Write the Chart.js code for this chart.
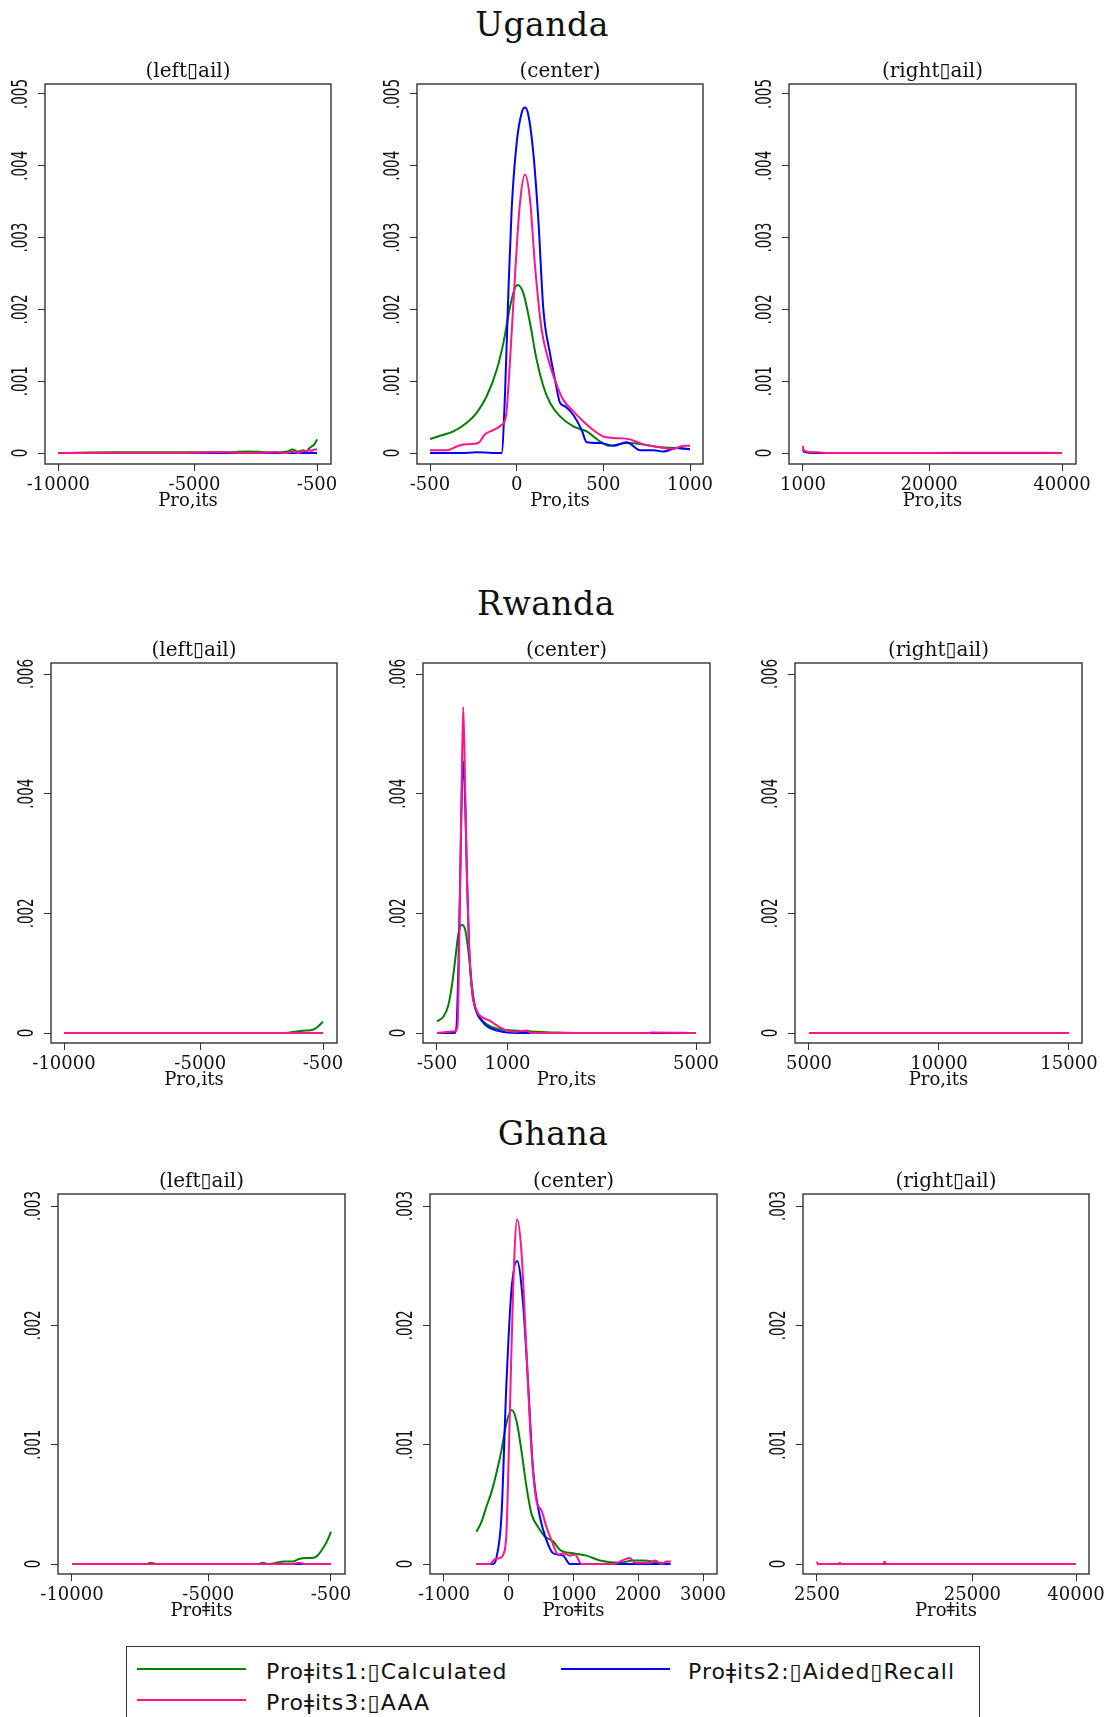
<!DOCTYPE html>
<html>
<head>
<meta charset="utf-8">
<script src="https://cdn.jsdelivr.net/npm/chart.js@4.4.1/dist/chart.umd.min.js"></script>
<style>
html, body { margin: 0; padding: 0; background: #fff; overflow: hidden; }
body { width: 1112px; height: 1717px; position: relative; }
canvas { position: absolute; }
.country { position: absolute; font-family: "DejaVu Serif", serif; font-size: 33px; color: #111;
           transform: translate(-50%, -50%); white-space: nowrap; line-height: 1; letter-spacing: 0.5px; }
#legend { position: absolute; left: 126px; top: 1646px; width: 854px; height: 90px;
          border: 1px solid #333; box-sizing: border-box; }
#legend .swatch { position: absolute; height: 2px; width: 109px; }
#legend .lbl { position: absolute; font-family: "DejaVu Sans", sans-serif; font-size: 22px; color: #111;
               transform: translateY(-50%); white-space: nowrap; line-height: 1; letter-spacing: 1px; }
</style>
</head>
<body>
<div class="country" style="left:542px;top:24px">Uganda</div>
<div class="country" style="left:546px;top:603px">Rwanda</div>
<div class="country" style="left:553px;top:1133px">Ghana</div>

<div id="legend">
  <div class="swatch" style="left:10px;top:21px;background:#008000"></div>
  <div class="lbl" style="left:139px;top:25px">Proǂits1:▯Calculated</div>
  <div class="swatch" style="left:434px;top:21px;background:#0000ff"></div>
  <div class="lbl" style="left:561px;top:25px">Proǂits2:▯Aided▯Recall</div>
  <div class="swatch" style="left:10px;top:52px;background:#ff148c"></div>
  <div class="lbl" style="left:139px;top:56px">Proǂits3:▯AAA</div>
</div>

<script>
// ---- Uganda ----
const ugLeftX     = [-10000, -8000, -6000, -4000, -3000, -2000, -1600, -1400, -1200, -1000, -900, -800, -700, -600, -500];
const ugLeftCalc  = [0, 0.00001, 0.00001, 0.00001, 0.00002, 0.00001, 0.00002, 0.00005, 0.00002, 0.00004, 0.00002, 0.00006, 0.00009, 0.00012, 0.00019];
const ugLeftAided = [0, 0, 0, 0, 0, 0, 0, 0, 0, 0, 0, 0, 0, 0, 0];
const ugLeftAaa   = [0, 0, 0, 0.00001, 0, 0.00001, 0, 0.00002, 0, 0.00003, 0.00002, 0.00004, 0.00003, 0.00005, 0.00005];

const ugCenterCalcX  = [-500, -442, -365, -288, -231, -173, -115, -77, -38, -10, 6, 38, 77, 115, 154, 192, 250, 327, 404, 481, 538, 635, 731, 827, 923, 1000];
const ugCenterCalcY  = [0.000195, 0.00024, 0.0003, 0.00042, 0.00056, 0.00079, 0.00116, 0.00153, 0.00204, 0.0023, 0.00234, 0.00223, 0.00181, 0.0013, 0.00093, 0.0007, 0.00051, 0.00037, 0.0003, 0.00016, 0.0001, 0.00014, 0.00012, 0.00008, 0.00007, 0.000055];
const ugCenterAidedX = [-500, -327, -231, -87, -67, -48, -29, 0, 29, 48, 67, 96, 125, 154, 192, 221, 250, 279, 327, 375, 404, 481, 558, 635, 712, 788, 846, 923, 1000];
const ugCenterAidedY = [0, 0, 0.00001, 0, 0.00084, 0.00223, 0.00339, 0.00432, 0.00474, 0.00481, 0.00471, 0.00418, 0.00325, 0.002, 0.00139, 0.00102, 0.0007, 0.00065, 0.00053, 0.00032, 0.00015, 0.00014, 0.0001, 0.00015, 0.00004, 0.00004, 0.00002, 0.00007, 0.00005];
const ugCenterAaaX   = [-500, -404, -346, -308, -221, -183, -135, -87, -62, -38, -10, 19, 48, 77, 106, 144, 183, 231, 269, 327, 385, 442, 500, 558, 654, 731, 827, 904, 962, 1000];
const ugCenterAaaY   = [0.00004, 0.00004, 0.00009, 0.00012, 0.00014, 0.00026, 0.00032, 0.00039, 0.00051, 0.0013, 0.00246, 0.00348, 0.00388, 0.00353, 0.0026, 0.00172, 0.0013, 0.00095, 0.00074, 0.00058, 0.00044, 0.00032, 0.00023, 0.00021, 0.00019, 0.00012, 0.00008, 0.00006, 0.0001, 0.0001];

const ugRightX     = [1000, 1100, 1300, 1600, 2000, 3000, 5000, 10000, 20000, 30000, 40000];
const ugRightCalc  = [0.00003, 0.00002, 0.00001, 0.00001, 0, 0, 0, 0, 0, 0, 0];
const ugRightAided = [0.00006, 0.00003, 0.00002, 0.00001, 0.00001, 0, 0, 0, 0, 0, 0];
const ugRightAaa   = [0.0001, 0.00004, 0.00003, 0.00002, 0.00001, 0.00001, 0, 0, 0, 0.000005, 0];

// ---- Rwanda ----
const rwLeftX     = [-10000, -5000, -2000, -1700, -1400, -1100, -900, -700, -500];
const rwLeftCalc  = [0, 0, 0, 0.00001, 0.00003, 0.00004, 0.00005, 0.0001, 0.00019];
const rwLeftAided = [0, 0, 0, 0, 0, 0, 0, 0, 0];
const rwLeftAaa   = [0, 0, 0, 0, 0, 0, 0, 0, 0];

const rwCenterCalcX  = [-500, -357, -257, -186, -114, -43, 29, 100, 171, 243, 314, 421, 564, 779, 1136, 1421, 2000, 3000, 5000];
const rwCenterCalcY  = [0.000195, 0.00028, 0.00047, 0.00078, 0.00122, 0.00167, 0.00181, 0.00172, 0.00134, 0.00078, 0.00042, 0.00025, 0.00014, 0.00007, 0.00004, 0.00003, 0.00001, 0, 0];
const rwCenterAidedX = [-500, -129, -86, -43, 0, 29, 57, 93, 136, 179, 243, 350, 457, 564, 779, 993, 1500, 5000];
const rwCenterAidedY = [0, 0, 0.0001, 0.0012, 0.0029, 0.0041, 0.00454, 0.004, 0.00262, 0.0015, 0.00072, 0.00033, 0.0002, 0.00011, 0.00004, 0.00001, 0, 0];
const rwCenterAaaX   = [-500, -400, -114, -64, -21, 21, 57, 93, 136, 179, 243, 350, 493, 636, 743, 921, 1136, 1421, 1493, 4000, 4050, 5000];
const rwCenterAaaY   = [0, 0.00001, 0.00003, 0.00011, 0.0018, 0.004, 0.00545, 0.0043, 0.00262, 0.0015, 0.00072, 0.00036, 0.00025, 0.0002, 0.00014, 0.00006, 0.00002, 0.00004, 0, 0, 0.00001, 0];

const rwRightX     = [5000, 10000, 15000];
const rwRightCalc  = [0, 0, 0];
const rwRightAided = [0, 0, 0];
const rwRightAaa   = [0, 0, 0];

// ---- Ghana ----
const ghLeftX     = [-10000, -7300, -7100, -6900, -4000, -3200, -3000, -2800, -2200, -1900, -1700, -1400, -1200, -1000, -800, -650, -500];
const ghLeftCalc  = [0, 0, 0.00001, 0, 0, 0, 0.00001, 0, 0.00002, 0.00002, 0.00004, 0.00005, 0.00005, 0.00007, 0.00013, 0.00019, 0.00027];
const ghLeftAided = [0, 0, 0, 0, 0, 0, 0, 0, 0, 0, 0, 0, 0, 0, 0, 0, 0];
const ghLeftAaa   = [0, 0, 0, 0, 0, 0, 0, 0, 0, 0, 0.00001, 0, 0, 0, 0, 0, 0];

const ghCenterCalcX  = [-500, -423, -345, -268, -191, -113, -36, 46, 119, 196, 273, 351, 454, 557, 686, 789, 995, 1201, 1407, 1716, 1923, 2077, 2335, 2490];
const ghCenterCalcY  = [0.00027, 0.00035, 0.00048, 0.0006, 0.00076, 0.00095, 0.00118, 0.00129, 0.0012, 0.00095, 0.00065, 0.00042, 0.00031, 0.00023, 0.00019, 0.00012, 0.00009, 0.00007, 0.00003, 0.00001, 0.00003, 0.00003, 0.00001, 0];
const ghCenterAidedX = [-500, -242, -191, -113, -36, 41, 129, 222, 299, 376, 479, 582, 686, 840, 943, 2500];
const ghCenterAidedY = [0, 0, 0.00005, 0.0004, 0.00151, 0.00229, 0.00254, 0.00218, 0.00151, 0.00079, 0.0004, 0.0002, 0.00009, 0.00007, 0, 0];
const ghCenterAaaX   = [-500, -294, -216, -139, -77, -36, 15, 67, 129, 196, 273, 351, 428, 505, 582, 660, 763, 840, 943, 1021, 1124, 1613, 1716, 1871, 1948, 2180, 2258, 2361, 2438, 2505];
const ghCenterAaaY   = [0, 0, 0.00004, 0.00005, 0.00009, 0.00026, 0.00123, 0.00229, 0.00289, 0.00262, 0.00179, 0.00095, 0.00053, 0.00045, 0.00031, 0.0002, 0.00008, 0.00009, 0.00007, 0.00008, 0, 0, 0.00002, 0.00005, 0.00001, 0.00001, 0.00003, 0, 0.00002, 0.00002];

const ghRightX     = [2500, 2550, 2650, 5500, 5800, 6100, 12100, 12300, 12500, 25000, 40000];
const ghRightCalc  = [0, 0, 0, 0, 0.000008, 0, 0, 0, 0, 0, 0];
const ghRightAided = [0, 0, 0, 0, 0, 0, 0, 0, 0, 0, 0];
const ghRightAaa   = [0.00002, 0.00001, 0, 0, 0, 0, 0, 0.00002, 0, 0, 0];

// tick values
const tailLeftTicks = [-10000, -5000, -500];
const ugCenterTicks = [-500, 0, 500, 1000];
const ugRightTicks  = [1000, 20000, 40000];
const rwCenterTicks = [-500, 1000, 5000];
const rwRightTicks  = [5000, 10000, 15000];
const ghCenterTicks = [-1000, 0, 1000, 2000, 3000];
const ghRightTicks  = [2500, 25000, 40000];
const ugYTicks = [0, 0.001, 0.002, 0.003, 0.004, 0.005];
const rwYTicks = [0, 0.002, 0.004, 0.006];
const ghYTicks = [0, 0.001, 0.002, 0.003];

const GREEN = '#008000', BLUE = '#0000ff', PINK = '#ff148c';
const LEFT_T = '(left\u25AFail)', CENTER_T = '(center)', RIGHT_T = '(right\u25AFail)';

function pts(xs, ys) { return xs.map((x, i) => ({ x: x, y: ys[i] })); }

function series(calc, aided, aaa) {
  return [
    { data: calc,  borderColor: GREEN, order: 2 },
    { data: aided, borderColor: BLUE,  order: 1 },
    { data: aaa,   borderColor: PINK,  order: 0 }
  ];
}

// frame, subtitle and rotated y labels
const panelDecor = {
  id: 'panelDecor',
  afterDraw(chart, args, opts) {
    const { ctx, chartArea: a } = chart;
    const y = chart.scales.y;
    ctx.save();
    ctx.strokeStyle = '#333';
    ctx.lineWidth = 1.4;
    ctx.strokeRect(a.left, a.top, a.right - a.left, a.bottom - a.top);

    ctx.fillStyle = '#111';
    ctx.font = '20px "DejaVu Serif", serif';
    ctx.textAlign = 'center';
    ctx.textBaseline = 'middle';
    ctx.fillText(opts.subtitle, (a.left + a.right) / 2, a.top - 12);

    ctx.font = '22px "Liberation Sans Narrow", "DejaVu Sans Condensed", sans-serif';
    ctx.textBaseline = 'alphabetic';
    const squeeze = 30 / ctx.measureText('.005').width;
    y.ticks.forEach(t => {
      const label = t.value === 0 ? '0' : t.value.toFixed(3).replace(/^0/, '');
      ctx.save();
      ctx.translate(a.left - 18, y.getPixelForValue(t.value));
      ctx.rotate(-Math.PI / 2);
      ctx.scale(squeeze, 1);
      ctx.fillText(label, 0, 0);
      ctx.restore();
    });
    ctx.restore();
  }
};

const panels = [
  { box: [44.6, 84, 331, 464], x: [-10491, 13.5], y: [-0.000153, 0.005139], xt: tailLeftTicks, yt: ugYTicks, sub: LEFT_T, xl: 'Pro,its',
    ds: series(pts(ugLeftX, ugLeftCalc), pts(ugLeftX, ugLeftAided), pts(ugLeftX, ugLeftAaa)) },
  { box: [417, 84, 703, 464], x: [-575, 1075], y: [-0.000153, 0.005139], xt: ugCenterTicks, yt: ugYTicks, sub: CENTER_T, xl: 'Pro,its',
    ds: series(pts(ugCenterCalcX, ugCenterCalcY), pts(ugCenterAidedX, ugCenterAidedY), pts(ugCenterAaaX, ugCenterAaaY)) },
  { box: [789, 84, 1076, 464], x: [-1108, 42108], y: [-0.000153, 0.005139], xt: ugRightTicks, yt: ugYTicks, sub: RIGHT_T, xl: 'Pro,its',
    ds: series(pts(ugRightX, ugRightCalc), pts(ugRightX, ugRightAided), pts(ugRightX, ugRightAaa)) },

  { box: [51, 663, 337, 1043], x: [-10477, 13.5], y: [-0.000167, 0.006184], xt: tailLeftTicks, yt: rwYTicks, sub: LEFT_T, xl: 'Pro,its',
    ds: series(pts(rwLeftX, rwLeftCalc), pts(rwLeftX, rwLeftAided), pts(rwLeftX, rwLeftAaa)) },
  { box: [423, 663, 710, 1043], x: [-797, 5297], y: [-0.000167, 0.006184], xt: rwCenterTicks, yt: rwYTicks, sub: CENTER_T, xl: 'Pro,its',
    ds: series(pts(rwCenterCalcX, rwCenterCalcY), pts(rwCenterAidedX, rwCenterAidedY), pts(rwCenterAaaX, rwCenterAaaY)) },
  { box: [795, 663, 1082, 1043], x: [4462, 15500], y: [-0.000167, 0.006184], xt: rwRightTicks, yt: rwYTicks, sub: RIGHT_T, xl: 'Pro,its',
    ds: series(pts(rwRightX, rwRightCalc), pts(rwRightX, rwRightAided), pts(rwRightX, rwRightAaa)) },

  { box: [58, 1194, 345, 1574], x: [-10513, 13.5], y: [-0.0000838, 0.0031006], xt: tailLeftTicks, yt: ghYTicks, sub: LEFT_T, xl: 'Proǂits',
    ds: series(pts(ghLeftX, ghLeftCalc), pts(ghLeftX, ghLeftAided), pts(ghLeftX, ghLeftAaa)) },
  { box: [430, 1194, 717, 1574], x: [-1216, 3216], y: [-0.0000838, 0.0031006], xt: ghCenterTicks, yt: ghYTicks, sub: CENTER_T, xl: 'Proǂits',
    ds: series(pts(ghCenterCalcX, ghCenterCalcY), pts(ghCenterAidedX, ghCenterAidedY), pts(ghCenterAaaX, ghCenterAaaY)) },
  { box: [803, 1194, 1089, 1574], x: [473, 41882], y: [-0.0000838, 0.0031006], xt: ghRightTicks, yt: ghYTicks, sub: RIGHT_T, xl: 'Proǂits',
    ds: series(pts(ghRightX, ghRightCalc), pts(ghRightX, ghRightAided), pts(ghRightX, ghRightAaa)) }
];

const Y_AXIS_W = 44, X_AXIS_H = 48, PAD_TOP = 28, PAD_RIGHT = 26;

panels.forEach(p => {
  const [l, t, r, b] = p.box;
  const cv = document.createElement('canvas');
  const w = Math.round(r - l) + Y_AXIS_W + PAD_RIGHT;
  const h = Math.round(b - t) + PAD_TOP + X_AXIS_H;
  cv.width = w; cv.height = h;
  cv.style.left = Math.round(l - Y_AXIS_W) + 'px';
  cv.style.top = Math.round(t - PAD_TOP) + 'px';
  document.body.appendChild(cv);

  new Chart(cv.getContext('2d'), {
    type: 'line',
    data: { datasets: p.ds.map(d => Object.assign({ fill: false, pointRadius: 0, borderWidth: 2,
      cubicInterpolationMode: 'monotone' }, d)) },
    options: {
      responsive: false,
      animation: false,
      devicePixelRatio: 1,
      layout: { padding: { top: PAD_TOP, right: PAD_RIGHT, left: 0, bottom: 0 } },
      plugins: {
        legend: { display: false },
        tooltip: { enabled: false },
        panelDecor: { subtitle: p.sub }
      },
      scales: {
        x: {
          type: 'linear',
          min: p.x[0], max: p.x[1],
          afterFit: s => { s.height = X_AXIS_H; },
          afterBuildTicks: s => { s.ticks = p.xt.map(v => ({ value: v })); },
          grid: { drawOnChartArea: false, drawTicks: true, tickLength: 7, color: '#333' },
          border: { display: false },
          ticks: { color: '#111', font: { family: 'DejaVu Serif', size: 18 }, padding: 4,
                   maxRotation: 0, autoSkip: false, callback: v => String(v) },
          title: { display: true, text: p.xl, color: '#111',
                   font: { family: 'DejaVu Serif', size: 18, lineHeight: 1 }, padding: { top: 0, bottom: 2 } }
        },
        y: {
          type: 'linear',
          min: p.y[0], max: p.y[1],
          afterFit: s => { s.width = Y_AXIS_W; },
          afterBuildTicks: s => { s.ticks = p.yt.map(v => ({ value: v })); },
          grid: { drawOnChartArea: false, drawTicks: true, tickLength: 7, color: '#333' },
          border: { display: false },
          ticks: { display: false }
        }
      }
    },
    plugins: [panelDecor]
  });
});
</script>
</body>
</html>
